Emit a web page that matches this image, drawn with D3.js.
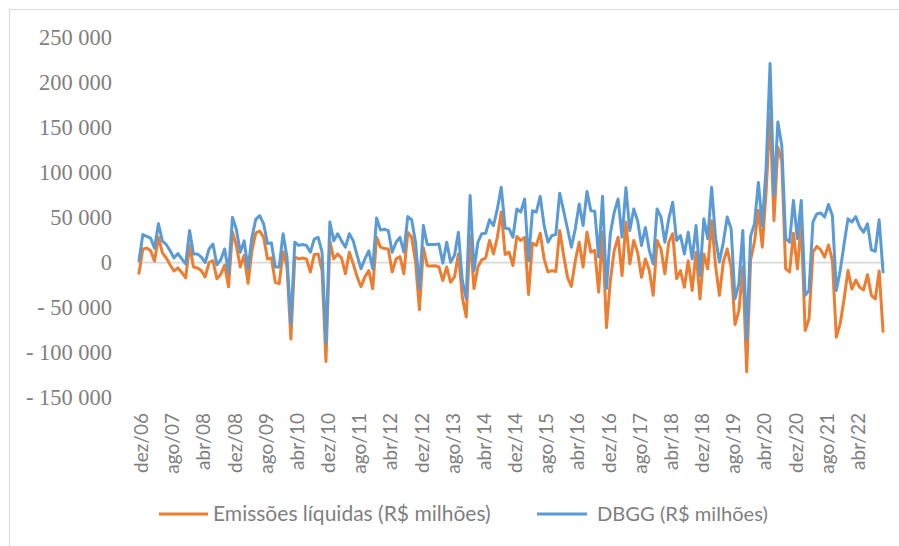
<!DOCTYPE html>
<html>
<head>
<meta charset="utf-8">
<script src="https://cdn.jsdelivr.net/npm/d3@7"></script>
<style>
  html, body { margin: 0; padding: 0; background: #ffffff; }
  svg { display: block; }
</style>
</head>
<body>
<svg id="chart" width="899" height="546"></svg>
<script>
// ---------------- DATA ----------------
const monthNames = ["jan","fev","mar","abr","mai","jun","jul","ago","set","out","nov","dez"];
// monthly categories from dez/06 to nov/22
const categories = d3.range(192).map(i => {
  const m = (11 + i) % 12;
  const y = 6 + Math.floor((11 + i) / 12);
  return monthNames[m] + "/" + String(y).padStart(2, "0");
});

const seriesNames = ["Emissões líquidas (R$ milhões)", "DBGG (R$ milhões)"];

const emissoes = [
  -12000, 15000, 16000, 13000, 1500, 28000, 11000, 5000, -2500, -9500,
  -6000, -11000, -17000, 19000, -5000, -6000, -9000, -16000, 0, 2000,
  -18000, -13000, -3000, -27000, 34000, 19000, -5000, 8000, -23000, 13000,
  33000, 35000, 28000, 4000, 5000, -22000, -23500, 12000, -5000, -85000,
  6000, 4000, 5000, 4000, -10500, 9000, 9500, -9000, -110000, 24000,
  4000, 9500, 5000, -12500, 11500, -1500, -16000, -27000, -16000, -9000,
  -29000, 28000, 17000, 15500, 15000, -10500, 4000, 6500, -12500, 33500,
  28000, 500, -52500, 16500, -3500, -4000, -3500, -5000, -20000, -5000,
  -22000, -16000, 9500, -38500, -60500, 30000, -29000, -5000, 3000, 5000,
  24500, 9500, 28000, 56000, 9000, 11500, -3500, 29000, 24500, 28000,
  -35500, 21500, 19000, 32500, 4000, -10500, -9000, -10000, 35500, 8000,
  -16500, -26500, 2000, 22500, -5000, 33500, 11500, 13500, -33000, 33500,
  -72500, -20000, 13500, 28000, -14500, 45000, -1500, 24500, 11500, -16500,
  4000, -9000, -36500, 24500, 15000, -12500, 22500, 32000, -18000, -9000,
  -27500, 2000, -31000, 11500, -40500, 9500, -7000, 46500, -3500, -36500,
  500, 15000, -5000, -69000, -53500, -5000, -121500, 3000, 23000, 58000,
  17000, 80000, 165000, 46500, 128000, 113000, -7000, -10500, 32500, -7000,
  43000, -75500, -62500, 11500, 18000, 14000, 6000, 19500, 2000, -83000,
  -68000, -40500, -9000, -29500, -19500, -27500, -30500, -13500, -36500, -40500,
  -9500, -76500
];

const dbgg = [
  2000, 31000, 29000, 27000, 16000, 43000, 24000, 20000, 13000, 5000,
  10000, 4000, -1500, 35500, 9500, 9500, 6000, 0, 15000, 20500,
  -2500, 3000, 15000, -11000, 50000, 37000, 11500, 24000, -7000, 28000,
  48000, 52000, 43000, 21000, 22000, -5000, -5000, 32000, 6000, -68000,
  22500, 19000, 20000, 19000, 11500, 26000, 28000, 11500, -90000, 45000,
  24000, 32000, 24000, 17000, 32000, 24000, 8000, -7000, 4000, 13000,
  -7000, 49500, 36000, 37000, 35500, 11500, 22500, 28000, 11500, 51000,
  47500, 22500, -29000, 41000, 20000, 20000, 20000, 20500, -700, 22500,
  400, 8000, 33500, -20000, -40000, 74500, -9000, 22500, 32000, 32500,
  47500, 41000, 59500, 83500, 38000, 37500, 28000, 59500, 56000, 70500,
  2000, 57500, 56000, 73500, 41000, 22500, 30000, 31000, 77000, 57500,
  37500, 17000, 37500, 65000, 41000, 79000, 57500, 57000, 6000, 73500,
  -29000, 32000, 56000, 70500, 28000, 83000, 35500, 59500, 46500, 19000,
  39000, 13500, -1500, 59500, 50500, 22500, 48500, 67000, 24500, 30000,
  9500, 33500, 4000, 41000, -14500, 48500, 26500, 83500, 28000, 500,
  22500, 50500, 37500, -40500, -23500, 35500, -85000, 29000, 43000, 89000,
  41000, 106000, 221000, 74500, 156000, 130000, 26500, 22500, 69000, 26500,
  69000, -36500, -31000, 45000, 54000, 55000, 50500, 64500, 52000, -31000,
  -9000, 20500, 48500, 45000, 51000, 39500, 33500, 43000, 14000, 12500,
  47500, -10500
];

const yTickValues = [250000, 200000, 150000, 100000, 50000, 0, -50000, -100000, -150000];
const yTickLabels = ["250 000", "200 000", "150 000", "100 000", "50 000", "0", "- 50 000", "- 100 000", "- 150 000"];
const xTickLabels = categories.filter((d, i) => i % 8 === 0);

// ---------------- CHART ----------------
const svg = d3.select("#chart");
const textColor = "#7f7f7f";
const colors = ["#ED7D31", "#5B9BD5"];

// outer chart border (partially visible)
svg.append("rect")
  .attr("x", 9.5).attr("y", 9.5)
  .attr("width", 1000).attr("height", 1000)
  .attr("fill", "#ffffff")
  .attr("stroke", "#d9d9d9")
  .attr("stroke-width", 1);

const x = d3.scaleBand().domain(categories).range([137, 885]).padding(0);
const xc = d => x(d) + x.bandwidth() / 2;
const y = d3.scaleLinear().domain([-150000, 250000]).range([397.5, 37.5]);

// y axis labels
const yAxis = svg.append("g")
  .attr("transform", "translate(112,0)")
  .call(d3.axisLeft(y).tickValues(yTickValues).tickSize(0).tickPadding(0)
    .tickFormat((d, i) => yTickLabels[i]));
yAxis.select(".domain").remove();
yAxis.selectAll("text")
  .attr("fill", textColor)
  .style("font-family", "'Liberation Serif', 'Times New Roman', serif")
  .style("font-size", "22px")
  .attr("dy", "0.33em");
{
  const t = yAxis.selectAll("text").filter((d) => d === 250000).node();
  const w = t.getComputedTextLength();
  const fs = 22 * 73 / w;
  yAxis.selectAll("text").style("font-size", fs + "px");
}

// zero line (category axis)
svg.append("line")
  .attr("x1", 137).attr("x2", 885)
  .attr("y1", y(0)).attr("y2", y(0))
  .attr("stroke", "#d9d9d9")
  .attr("stroke-width", 1.75);

// x axis labels
const xAxis = svg.append("g")
  .attr("transform", "translate(2.5,413)")
  .call(d3.axisBottom(x).tickValues(xTickLabels).tickSize(0).tickPadding(0));
xAxis.select(".domain").remove();
xAxis.selectAll("text")
  .attr("fill", textColor)
  .style("font-family", "Lato, 'Open Sans', sans-serif")
  .style("font-size", "20px")
  .attr("transform", "rotate(-90)")
  .attr("text-anchor", "end")
  .attr("x", 0).attr("y", 0)
  .attr("dy", "0.35em");
{
  const t = xAxis.selectAll("text").filter(d => d === "dez/06").node();
  const w = t.getComputedTextLength();
  const fs = 20 * 60 / w;
  xAxis.selectAll("text").style("font-size", fs + "px");
}

// lines
const line = d3.line()
  .x((d, i) => xc(categories[i]))
  .y(d => y(d));

[emissoes, dbgg].forEach((s, k) => {
  svg.append("path")
    .datum(s)
    .attr("fill", "none")
    .attr("stroke", colors[k])
    .attr("stroke-width", 3)
    .attr("stroke-linejoin", "round")
    .attr("stroke-linecap", "round")
    .attr("d", line);
});

// legend
const legendItems = [
  { name: seriesNames[0], color: colors[0], x1: 159, x2: 208, tx: 213, tw: 278 },
  { name: seriesNames[1], color: colors[1], x1: 537, x2: 587, tx: 597, tw: 171 }
];
const legend = svg.append("g");
legendItems.forEach(it => {
  legend.append("line")
    .attr("x1", it.x1).attr("x2", it.x2)
    .attr("y1", 514).attr("y2", 514)
    .attr("stroke", it.color)
    .attr("stroke-width", 3);
  const t = legend.append("text")
    .attr("x", it.tx).attr("y", 514)
    .attr("dy", "0.35em")
    .attr("fill", textColor)
    .style("font-family", "Lato, 'Open Sans', sans-serif")
    .style("font-size", "20px")
    .text(it.name);
  const w = t.node().getComputedTextLength();
  t.style("font-size", (20 * it.tw / w) + "px");
});
</script>
</body>
</html>
